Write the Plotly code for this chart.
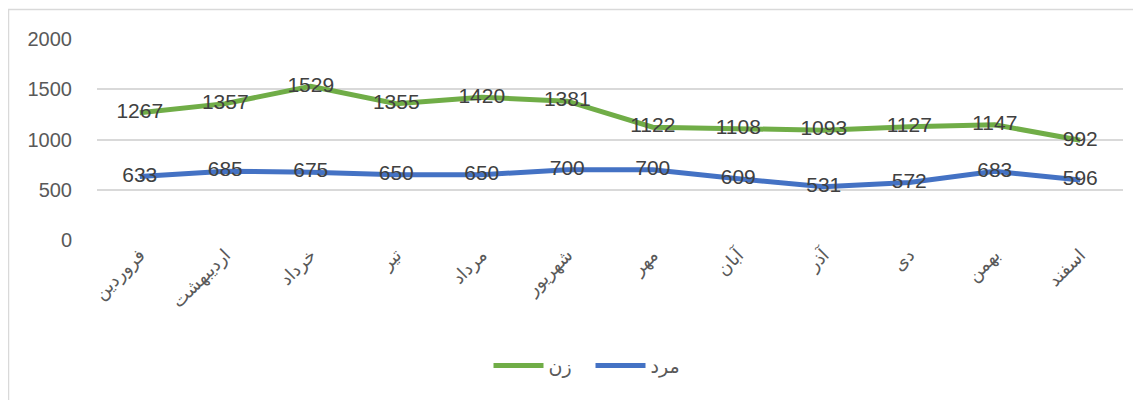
import plotly.graph_objects as go

months = ["فروردین", "اردیبهشت", "خرداد", "تیر", "مرداد", "شهریور",
          "مهر", "آبان", "آذر", "دی", "بهمن", "اسفند"]
women = [1267, 1357, 1529, 1355, 1420, 1381, 1122, 1108, 1093, 1127, 1147, 992]
men = [633, 685, 675, 650, 650, 700, 700, 609, 531, 572, 683, 596]
y_ticks = [0, 500, 1000, 1500, 2000]

# page body has an 8px margin, so the figure is drawn at (8, 8)
W, H = 1133, 392
L, R, T, B = 89, 18, 31, 160
pw, ph = W - L - R, H - T - B

label_font = dict(family="Liberation Sans, Arial, DejaVu Sans", size=21, color="#404040")

fig = go.Figure()
fig.add_trace(go.Scatter(
    x=months, y=women, name="زن", mode="lines+text",
    line=dict(color="#70AD47", width=5),
    text=[str(v) for v in women], textposition="middle center",
    textfont=label_font, cliponaxis=False,
))
fig.add_trace(go.Scatter(
    x=months, y=men, name="مرد", mode="lines+text",
    line=dict(color="#4472C4", width=5),
    text=[str(v) for v in men], textposition="middle center",
    textfont=label_font, cliponaxis=False,
))

fig.update_layout(
    width=W, height=H,
    margin=dict(l=L, r=R, t=T, b=B, pad=0, autoexpand=False),
    paper_bgcolor="white", plot_bgcolor="white",
    showlegend=True,
    legend=dict(orientation="h", x=0.481, xanchor="center", y=-0.53, yanchor="top",
                font=dict(family="DejaVu Sans, Liberation Sans", size=19, color="#595959"),
                itemwidth=50, entrywidth=37, entrywidthmode="pixels"),
    xaxis=dict(
        type="category", showgrid=False, showline=False, zeroline=False,
        tickangle=-45, ticks="", automargin=False,
        tickfont=dict(family="DejaVu Sans, Liberation Sans", size=18, color="#595959"),
        range=[-0.5, 11.5],
    ),
    yaxis=dict(
        range=[0, 2000], tickvals=y_ticks, showgrid=True, gridcolor="#D9D9D9", gridwidth=1.5,
        zeroline=False, showline=False, ticks="", automargin=False,
        ticklabelstandoff=24,
        tickfont=dict(family="Liberation Sans, Arial", size=20, color="#595959"),
    ),
    shapes=[dict(type="rect", xref="paper", yref="paper",
                 x0=(0.5 - L) / pw, x1=1.2, y0=-1.2, y1=(H - B - 1.5) / ph,
                 line=dict(color="#D9D9D9", width=1.5), fillcolor="rgba(0,0,0,0)", layer="below")],
)

fig.write_html("out.html")
